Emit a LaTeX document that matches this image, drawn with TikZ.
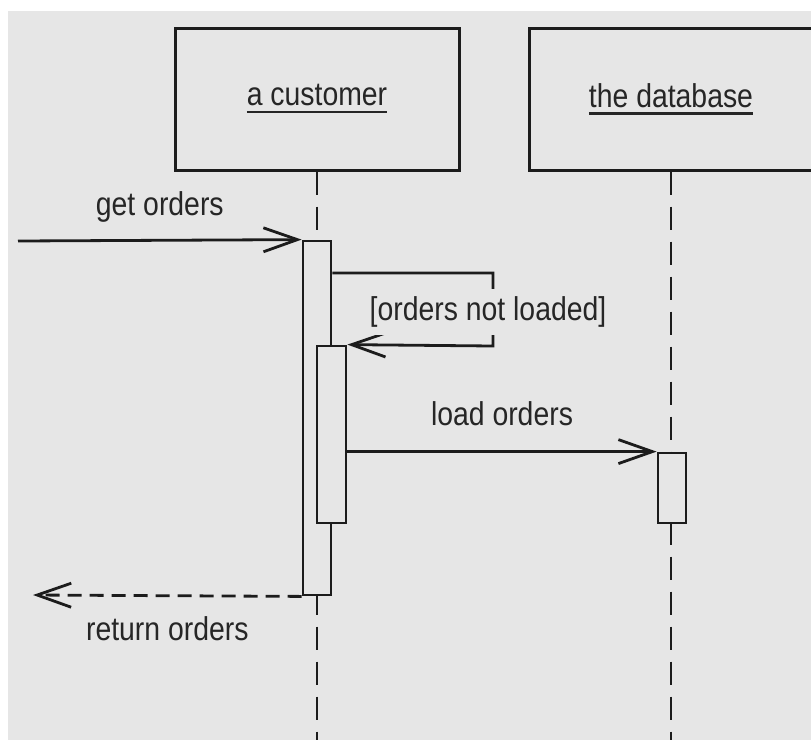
\documentclass[tikz,border=0pt]{standalone}
\usepackage{fontspec}
\setmainfont{Liberation Sans}[FakeStretch=0.86]
\usetikzlibrary{arrows.meta}

\definecolor{bgcol}{RGB}{230,230,230}
\definecolor{inkcol}{RGB}{28,28,28}
\definecolor{txtcol}{RGB}{38,38,38}

% underlined object name
\newcommand{\objname}[1]{\vtop{\hbox{#1}\kern4.5pt\hrule height 2.8pt}}

\tikzset{
  objbox/.style={draw=inkcol,line width=3pt,minimum width=284pt,minimum height=142pt,
    font=\fontsize{33}{40}\selectfont,text=txtcol},
  actbar/.style={draw=inkcol,fill=bgcol,line width=2.8pt,minimum width=28pt,inner sep=0pt},
  lifeline/.style={draw=inkcol,line width=2.8pt,dash pattern=on 23pt off 12pt},
  msg/.style={draw=inkcol,line width=2.8pt,->},
  reply/.style={msg,dash pattern=on 14pt off 8pt},
  msglbl/.style={font=\fontsize{33}{40}\selectfont,text=txtcol,inner sep=0pt}
}

\begin{document}
\begin{tikzpicture}[>={Straight Barb[length=34pt,width=24pt]},line join=miter,x=1pt,y=-1pt]
  \useasboundingbox (0,0) rectangle (811,740);
  \fill[bgcol] (8,11) rectangle (811,740);
%%
  % Node: customer
  \node[objbox] (cust) at (317,99) {\objname{a customer}};
  % Node: database
  \node[objbox] (db) at (671,99) {\objname{the database}};
  % Lifelines
  \coordinate (custend) at (317,740);
  \coordinate (dbend) at (671,740);
  \draw[lifeline] (cust.south) -- (custend);
  \draw[lifeline] (db.south) -- (dbend);
  % Node: activations
  \node[actbar,minimum height=354pt] (act1) at (317,418) {};
  \node[actbar,minimum height=177pt,minimum width=29pt] (act2) at (331.5,434.5) {};
  \node[actbar,minimum height=70pt] (act3) at (672,488) {};
  % Edge: caller -> act1
  \coordinate (caller) at (18,241);
  \draw[msg] (caller) -- (act1.north west)
    node[msglbl,midway,anchor=base,yshift=25pt] {get orders};
  % Edge: act1 -> act2 (self call)
  \coordinate (loopA) at (493,273);
  \coordinate (loopB) at (493,346);
  \draw[msg] (act1.east |- loopA) -- (loopA) -- (loopB) -- (act2.north east);
  \node[msglbl,fill=bgcol,inner sep=8pt] (guard) at (488,312) {[orders not loaded]};
  % Edge: act2 -> act3
  \draw[msg] (act2.east |- act3.north) -- (act3.north west)
    node[msglbl,midway,anchor=base,yshift=26pt] {load orders};
  % Edge: act1 -> caller (return)
  \coordinate (back) at (33,595);
  \draw[reply] (act1.south west) -- (back)
    node[msglbl,midway,anchor=base,yshift=-45pt] {return orders};
%
\end{tikzpicture}
\end{document}
